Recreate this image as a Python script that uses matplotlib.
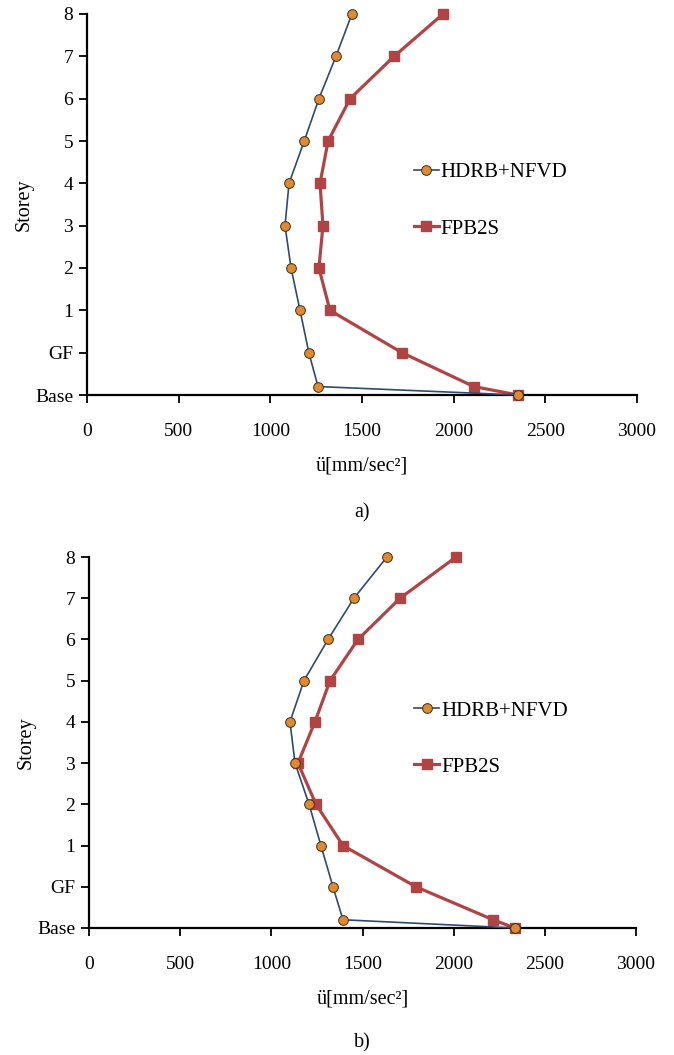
import matplotlib
matplotlib.use('Agg')
import matplotlib.pyplot as plt

plt.rcParams['font.family'] = ['Liberation Serif', 'DejaVu Serif']

levels = [0, 0.2, 1, 2, 3, 4, 5, 6, 7, 8, 9]
ytick_labels = ['Base', 'GF', '1', '2', '3', '4', '5', '6', '7', '8']

# panel a)
hdrb_a = [2350, 1260, 1210, 1162, 1113, 1080, 1102, 1185, 1265, 1358, 1445]
fpb_a = [2350, 2110, 1718, 1325, 1265, 1287, 1271, 1315, 1435, 1675, 1942]

# panel b)
hdrb_b = [2336, 1393, 1338, 1272, 1207, 1130, 1102, 1179, 1311, 1453, 1634]
fpb_b = [2336, 2216, 1793, 1393, 1245, 1146, 1239, 1322, 1475, 1706, 2013]

fig = plt.figure(figsize=(6.74, 10.55), dpi=100)
ax1 = fig.add_axes([87/674, 1 - 395/1055, 550/674, 381/1055])
ax2 = fig.add_axes([89/674, 1 - 928/1055, 547/674, 371/1055])

for ax, h, f, cap in [(ax1, hdrb_a, fpb_a, 'a)'), (ax2, hdrb_b, fpb_b, 'b)')]:
    ax.plot(h, levels, color='#2E4A6E', lw=1.2, marker='o', ms=7,
            mfc='#E0892F', mec='#3a3020', mew=0.7, label='HDRB+NFVD',
            zorder=3, clip_on=False)
    ax.plot(f, levels, color='#B04444', lw=2.3, marker='s', ms=7,
            mfc='#B04444', mec='#B04444', label='FPB2S', zorder=2, clip_on=False)
    ax.set_xlim(0, 3000)
    ax.set_ylim(0, 9)
    ax.set_xticks(range(0, 3001, 500))
    ax.set_yticks(range(0, 10))
    ax.set_yticklabels(ytick_labels)
    ax.spines['top'].set_visible(False)
    ax.spines['right'].set_visible(False)
    ax.spines['left'].set_linewidth(1.6)
    ax.spines['bottom'].set_linewidth(1.6)
    ax.tick_params(axis='both', direction='out', length=6, width=1.3,
                   labelsize=14, colors='black', pad=4)
    ax.tick_params(axis='x', pad=14)
    ax.set_xlabel('ü[mm/sec²]', fontsize=14.5, labelpad=12)
    ax.set_ylabel('Storey', fontsize=14.5, labelpad=1)
    ax.text(0.5, -0.31, cap, transform=ax.transAxes, ha='center', va='center', fontsize=14.5)
    ax.legend(loc='center left', bbox_to_anchor=(0.56, 0.51), frameon=False,
              fontsize=15, handlelength=1.2, handletextpad=0.1, labelspacing=1.75)

fig.savefig('out.png', dpi=100)
